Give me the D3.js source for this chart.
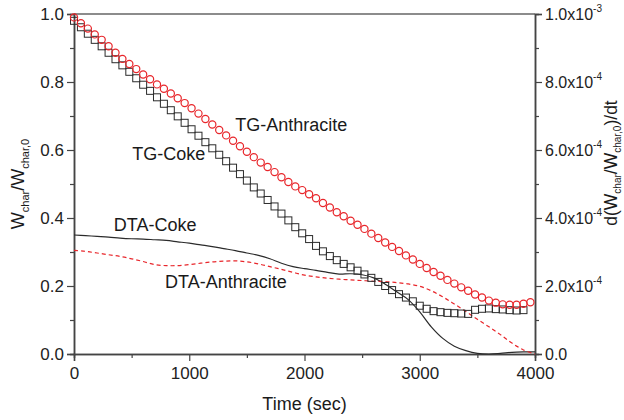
<!DOCTYPE html>
<html>
<head>
<meta charset="utf-8">
<script src="https://cdn.jsdelivr.net/npm/d3@7"></script>
<style>
  body { margin: 0; background: #fff; }
  svg { font-family: "Liberation Sans", Arial, sans-serif; }
</style>
</head>
<body>
<div id="chart"></div>
<script>
// TG marker times (sec)
const tgTimes = [0, 60, 120, 180, 240, 300, 360, 420, 480, 540, 600, 660, 720, 780, 840, 900,
    960, 1020, 1080, 1140, 1200, 1260, 1320, 1380, 1440, 1500, 1560, 1620, 1680, 1740, 1800,
    1860, 1920, 1980, 2040, 2100, 2160, 2220, 2280, 2340, 2400, 2460, 2520, 2580, 2640, 2700,
    2760, 2820, 2880, 2940, 3000, 3060, 3120, 3180, 3240, 3300, 3360, 3420, 3480, 3540, 3600,
    3660, 3720, 3780, 3840, 3900, 3960];

// W_char / W_char,0
const tgAnthracite = [0.990, 0.973, 0.957, 0.940, 0.924, 0.905, 0.886, 0.868, 0.853, 0.838,
    0.822, 0.808, 0.793, 0.780, 0.766, 0.752, 0.738, 0.723, 0.707, 0.691, 0.675, 0.659, 0.643,
    0.627, 0.611, 0.595, 0.579, 0.563, 0.550, 0.535, 0.520, 0.506, 0.493, 0.482, 0.470, 0.458,
    0.444, 0.431, 0.417, 0.405, 0.392, 0.380, 0.368, 0.354, 0.341, 0.328, 0.315, 0.303, 0.290,
    0.278, 0.265, 0.253, 0.241, 0.230, 0.218, 0.207, 0.196, 0.186, 0.175, 0.166, 0.157, 0.151,
    0.146, 0.145, 0.145, 0.148, 0.152];

const tgCoke = [0.980, 0.961, 0.942, 0.924, 0.905, 0.886, 0.867, 0.849, 0.830, 0.811, 0.792,
    0.774, 0.755, 0.736, 0.717, 0.699, 0.680, 0.661, 0.642, 0.623, 0.605, 0.586, 0.567, 0.548,
    0.529, 0.510, 0.490, 0.472, 0.453, 0.434, 0.413, 0.393, 0.373, 0.355, 0.338, 0.318, 0.302,
    0.288, 0.276, 0.265, 0.255, 0.245, 0.234, 0.224, 0.212, 0.200, 0.188, 0.176, 0.166, 0.155,
    0.142, 0.133, 0.126, 0.123, 0.121, 0.120, 0.119, 0.118, 0.130, 0.133, 0.134, 0.132, 0.131,
    0.129, 0.128, 0.129];

// DTA times (sec)
const dtaTimes = [0, 100, 200, 300, 400, 500, 600, 700, 800, 900, 1000, 1100, 1200, 1300, 1400,
    1500, 1600, 1700, 1800, 1900, 2000, 2100, 2200, 2300, 2400, 2500, 2600, 2700, 2800, 2900,
    3000, 3100, 3200, 3300, 3400, 3500, 3600, 3700, 3800, 3900, 4000];

// d(W_char/W_char,0)/dt
const dtaCoke = [3.50e-4, 3.48e-4, 3.46e-4, 3.44e-4, 3.41e-4, 3.39e-4, 3.38e-4, 3.36e-4, 3.34e-4,
    3.30e-4, 3.26e-4, 3.21e-4, 3.16e-4, 3.10e-4, 3.04e-4, 2.97e-4, 2.90e-4, 2.80e-4, 2.67e-4,
    2.57e-4, 2.51e-4, 2.46e-4, 2.40e-4, 2.35e-4, 2.36e-4, 2.33e-4, 2.24e-4, 2.05e-4, 1.83e-4,
    1.60e-4, 1.24e-4, 0.80e-4, 0.46e-4, 0.23e-4, 0.10e-4, 0.02e-4, 0.00, 0.02e-4, 0.05e-4,
    0.06e-4, 0.06e-4];

const dtaAnthracite = [3.05e-4, 3.02e-4, 2.97e-4, 2.92e-4, 2.87e-4, 2.80e-4, 2.72e-4, 2.63e-4,
    2.60e-4, 2.60e-4, 2.63e-4, 2.67e-4, 2.71e-4, 2.73e-4, 2.74e-4, 2.71e-4, 2.65e-4, 2.57e-4,
    2.49e-4, 2.40e-4, 2.32e-4, 2.27e-4, 2.23e-4, 2.20e-4, 2.18e-4, 2.16e-4, 2.14e-4, 2.13e-4,
    2.10e-4, 2.06e-4, 1.99e-4, 1.86e-4, 1.68e-4, 1.47e-4, 1.25e-4, 1.02e-4, 0.80e-4, 0.57e-4,
    0.32e-4, 0.12e-4, 0.0];

const xTicks = [0, 1000, 2000, 3000, 4000];
const leftTicks = [0.0, 0.2, 0.4, 0.6, 0.8, 1.0];
const rightTicks = [0, 2e-4, 4e-4, 6e-4, 8e-4, 1e-3];
const rightTickLabels = [["0.0", ""], ["2.0x10", "-4"], ["4.0x10", "-4"], ["6.0x10", "-4"],
    ["8.0x10", "-4"], ["1.0x10", "-3"]];

const red = "#e8262b";
const dark = "#2b2b2b";

const margin = { top: 14, right: 89, bottom: 66, left: 74 };
const width = 624 - margin.left - margin.right;
const height = 420 - margin.top - margin.bottom;

const svg = d3.select("#chart").append("svg")
    .attr("width", 624)
    .attr("height", 420);

const g = svg.append("g")
    .attr("transform", `translate(${margin.left}, ${margin.top})`);

const x = d3.scaleLinear().domain([0, 4000]).range([0, width]);
const yL = d3.scaleLinear().domain([0, 1]).range([height, 0]);
const yR = d3.scaleLinear().domain([0, 1e-3]).range([height, 0]);

// top frame line
g.append("line")
    .attr("x1", 0).attr("x2", width)
    .attr("y1", 0).attr("y2", 0)
    .attr("stroke", "#666").attr("stroke-width", 1.5);

// axes
g.append("g")
    .attr("transform", `translate(0, ${height})`)
    .call(d3.axisBottom(x).tickValues(xTicks).tickFormat(d3.format("d")).tickSize(7).tickPadding(6));
g.append("g")
    .attr("transform", `translate(0, ${height})`)
    .call(d3.axisBottom(x).tickValues([500, 1500, 2500, 3500]).tickFormat("").tickSize(4));

g.append("g")
    .call(d3.axisLeft(yL).tickValues(leftTicks).tickFormat(d3.format(".1f")).tickSize(7).tickPadding(3));
g.append("g")
    .call(d3.axisLeft(yL).tickValues([0.1, 0.3, 0.5, 0.7, 0.9]).tickFormat("").tickSize(4));

g.append("g")
    .attr("transform", `translate(${width}, 0)`)
    .call(d3.axisRight(yR).tickValues(rightTicks).tickFormat("").tickSize(7));
g.append("g")
    .attr("transform", `translate(${width}, 0)`)
    .call(d3.axisRight(yR).tickValues([1e-4, 3e-4, 5e-4, 7e-4, 9e-4]).tickFormat("").tickSize(4));

g.selectAll(".domain").attr("stroke", "#444").attr("stroke-width", 1.5);
g.selectAll(".tick line").attr("stroke", "#444").attr("stroke-width", 1.2);
g.selectAll(".tick text").attr("fill", "#222").style("font-size", "17px");

// right tick labels with superscripts
const rLab = g.append("g").selectAll("text")
    .data(rightTicks)
    .enter()
    .append("text")
    .attr("x", width + 10)
    .attr("y", d => yR(d) + 6)
    .attr("fill", "#222")
    .style("font-size", "16px");
rLab.append("tspan").text((d, i) => rightTickLabels[i][0]);
rLab.append("tspan")
    .attr("dy", -8)
    .style("font-size", "10px")
    .text((d, i) => rightTickLabels[i][1]);

// DTA lines
const dtaLine = d3.line()
    .x(d => x(d[0]))
    .y(d => yR(d[1]))
    .curve(d3.curveCatmullRom);

g.append("path")
    .datum(dtaTimes.map((t, i) => [t, dtaCoke[i]]))
    .attr("fill", "none")
    .attr("stroke", dark)
    .attr("stroke-width", 1.2)
    .attr("d", dtaLine);

g.append("path")
    .datum(dtaTimes.map((t, i) => [t, dtaAnthracite[i]]))
    .attr("fill", "none")
    .attr("stroke", red)
    .attr("stroke-width", 1.2)
    .attr("stroke-dasharray", "4,3")
    .attr("d", dtaLine);

// TG-Coke squares
const cokeData = tgCoke.map((v, i) => ({ t: tgTimes[i], v }));
g.selectAll(".sq")
    .data(cokeData)
    .enter()
    .append("rect")
    .attr("class", "sq")
    .attr("x", d => x(d.t) - 3.5)
    .attr("y", d => yL(d.v) - 3.5)
    .attr("width", 7)
    .attr("height", 7)
    .attr("fill", "none")
    .attr("stroke", dark)
    .attr("stroke-width", 1);

// TG-Anthracite circles
const anthData = tgAnthracite.map((v, i) => ({ t: tgTimes[i], v }));
g.selectAll(".ci")
    .data(anthData)
    .enter()
    .append("circle")
    .attr("class", "ci")
    .attr("cx", d => x(d.t))
    .attr("cy", d => yL(d.v))
    .attr("r", 3.6)
    .attr("fill", "none")
    .attr("stroke", red)
    .attr("stroke-width", 1.2);

// annotations
const notes = [
    { text: "TG-Anthracite", t: 1400, v: 0.655 },
    { text: "TG-Coke", t: 505, v: 0.572 },
    { text: "DTA-Coke", t: 345, v: 0.362 },
    { text: "DTA-Anthracite", t: 790, v: 0.194 }
];
g.selectAll(".note")
    .data(notes)
    .enter()
    .append("text")
    .attr("x", d => x(d.t))
    .attr("y", d => yL(d.v))
    .attr("fill", "#1a1a1a")
    .style("font-size", "18px")
    .text(d => d.text);

// axis titles
svg.append("text")
    .attr("x", margin.left + width / 2)
    .attr("y", 410)
    .attr("text-anchor", "middle")
    .attr("fill", "#1a1a1a")
    .style("font-size", "18px")
    .text("Time (sec)");

const lt = svg.append("text")
    .attr("transform", `translate(24, ${margin.top + height / 2}) rotate(-90)`)
    .attr("text-anchor", "middle")
    .attr("fill", "#1a1a1a")
    .style("font-size", "18px");
lt.append("tspan").text("W");
lt.append("tspan").attr("dy", 5).style("font-size", "11px").text("char");
lt.append("tspan").attr("dy", -5).text("/W");
lt.append("tspan").attr("dy", 5).style("font-size", "11px").text("char,0");

const rt = svg.append("text")
    .attr("transform", "translate(617, 163) rotate(-90)")
    .attr("text-anchor", "middle")
    .attr("fill", "#1a1a1a")
    .style("font-size", "17.5px");
rt.append("tspan").text("d(W");
rt.append("tspan").attr("dy", 4).style("font-size", "10px").text("char");
rt.append("tspan").attr("dy", -4).text("/W");
rt.append("tspan").attr("dy", 4).style("font-size", "10px").text("char,0");
rt.append("tspan").attr("dy", -4).text(")/dt");
</script>
</body>
</html>
